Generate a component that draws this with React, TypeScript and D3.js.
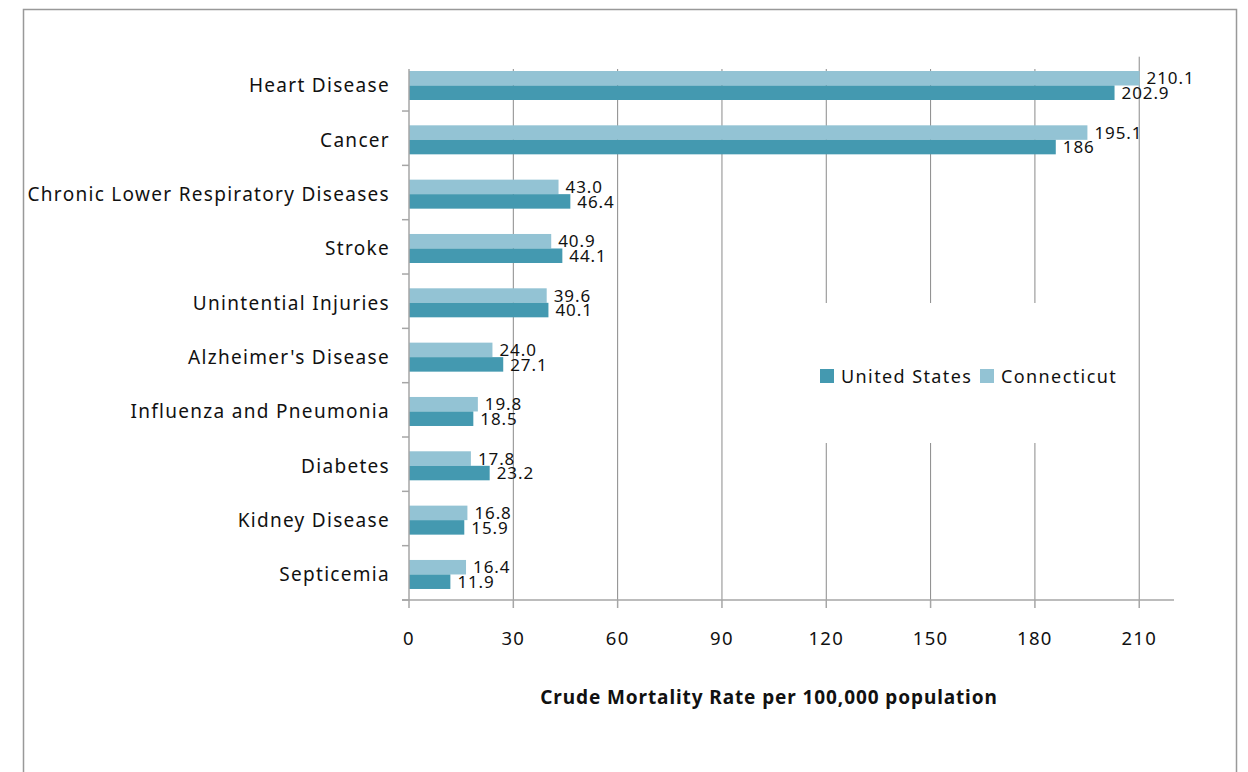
import React from "react";
import * as d3 from "d3";

const categories = [
  "Heart Disease",
  "Cancer",
  "Chronic Lower Respiratory Diseases",
  "Stroke",
  "Unintential Injuries",
  "Alzheimer's Disease",
  "Influenza and Pneumonia",
  "Diabetes",
  "Kidney Disease",
  "Septicemia",
];
const connecticut = [210.1, 195.1, 43.0, 40.9, 39.6, 24.0, 19.8, 17.8, 16.8, 16.4];
const connecticutLabels = ["210.1", "195.1", "43.0", "40.9", "39.6", "24.0", "19.8", "17.8", "16.8", "16.4"];
const unitedStates = [202.9, 186, 46.4, 44.1, 40.1, 27.1, 18.5, 23.2, 15.9, 11.9];
const unitedStatesLabels = ["202.9", "186", "46.4", "44.1", "40.1", "27.1", "18.5", "23.2", "15.9", "11.9"];
const xTicks = [0, 30, 60, 90, 120, 150, 180, 210];
const seriesNames = ["United States", "Connecticut"];

const W = 1248;
const H = 772;
const FONT = "'Noto Sans', 'Open Sans', sans-serif";
const DARK = "#4499B0";
const LIGHT = "#93C3D4";

export default function App() {
  const x = d3.scaleLinear().domain([0, 220]).range([409, 1174]);
  const y = d3.scaleBand<string>().domain(categories).range([56.7, 600]).padding(0);
  const bw = y.bandwidth();
  const sub = d3
    .scaleBand<string>()
    .domain(["Connecticut", "United States"])
    .range([bw * 0.263, bw * 0.797])
    .padding(0);
  const barH = sub.bandwidth();
  const plotTop = 69;
  const bottom = 600;

  return (
    <svg
      width={W}
      height={H}
      style={{ position: "absolute", left: 0, top: 0, background: "#fff" }}
      fontFamily={FONT}
    >
      <rect x={0} y={0} width={W} height={H} fill="#fff" />
      <rect x={23.5} y={9.5} width={1213} height={800} fill="none" stroke="#999" strokeWidth={1.5} />

      {/* gridlines */}
      {xTicks.slice(1).map((t, i) => (
        <line
          key={"g" + t}
          x1={x(t)}
          x2={x(t)}
          y1={i === xTicks.length - 2 ? 56.7 : plotTop}
          y2={bottom}
          stroke="#8a8a8a"
          strokeWidth={1}
        />
      ))}

      {/* legend background */}
      <rect x={800} y={303} width={325} height={140} fill="#fff" />

      {/* bars */}
      {categories.map((c, i) => {
        const y0 = y(c) as number;
        return (
          <g key={c}>
            <rect
              x={x(0)}
              y={y0 + (sub("Connecticut") as number)}
              width={x(connecticut[i]) - x(0)}
              height={barH}
              fill={LIGHT}
            />
            <rect
              x={x(0)}
              y={y0 + (sub("United States") as number)}
              width={x(unitedStates[i]) - x(0)}
              height={barH}
              fill={DARK}
            />
            <text
              x={x(connecticut[i]) + 7}
              y={y0 + (sub("Connecticut") as number) + barH / 2}
              dy="0.36em"
              fontSize={17}
              letterSpacing={0.9}
              fill="#111"
            >
              {connecticutLabels[i]}
            </text>
            <text
              x={x(unitedStates[i]) + 7}
              y={y0 + (sub("United States") as number) + barH / 2}
              dy="0.36em"
              fontSize={17}
              letterSpacing={0.9}
              fill="#111"
            >
              {unitedStatesLabels[i]}
            </text>
            <text
              x={390}
              y={y0 + bw / 2 + 1.5}
              dy="0.36em"
              textAnchor="end"
              fontSize={19}
              letterSpacing={1.3}
              fill="#111"
            >
              {c}
            </text>
          </g>
        );
      })}

      {/* axes */}
      <line x1={x(0)} x2={x(0)} y1={plotTop} y2={bottom} stroke="#a6a6a6" strokeWidth={1.5} />
      <line x1={402} x2={x(220)} y1={bottom} y2={bottom} stroke="#a6a6a6" strokeWidth={1.5} />
      {categories.map((c) => (
        <line
          key={"t" + c}
          x1={402}
          x2={x(0)}
          y1={(y(c) as number) + bw}
          y2={(y(c) as number) + bw}
          stroke="#a6a6a6"
          strokeWidth={1.5}
        />
      ))}
      {xTicks.map((t) => (
        <g key={"xt" + t}>
          <line x1={x(t)} x2={x(t)} y1={bottom} y2={608} stroke="#a6a6a6" strokeWidth={1.5} />
          <text x={x(t)} y={638} dy="0.36em" textAnchor="middle" fontSize={18.5} letterSpacing={1.3} fill="#111">
            {t}
          </text>
        </g>
      ))}

      <text
        x={769}
        y={697}
        dy="0.36em"
        textAnchor="middle"
        fontSize={19}
        fontWeight="bold"
        letterSpacing={0.9}
        fill="#111"
      >
        Crude Mortality Rate per 100,000 population
      </text>

      {/* legend */}
      <rect x={820} y={369} width={14} height={14} fill={DARK} />
      <text x={841} y={377} dy="0.36em" fontSize={18} letterSpacing={1.4} fill="#111">
        {seriesNames[0]}
      </text>
      <rect x={980} y={369} width={14} height={14} fill={LIGHT} />
      <text x={1001} y={377} dy="0.36em" fontSize={18} letterSpacing={1.4} fill="#111">
        {seriesNames[1]}
      </text>
    </svg>
  );
}
